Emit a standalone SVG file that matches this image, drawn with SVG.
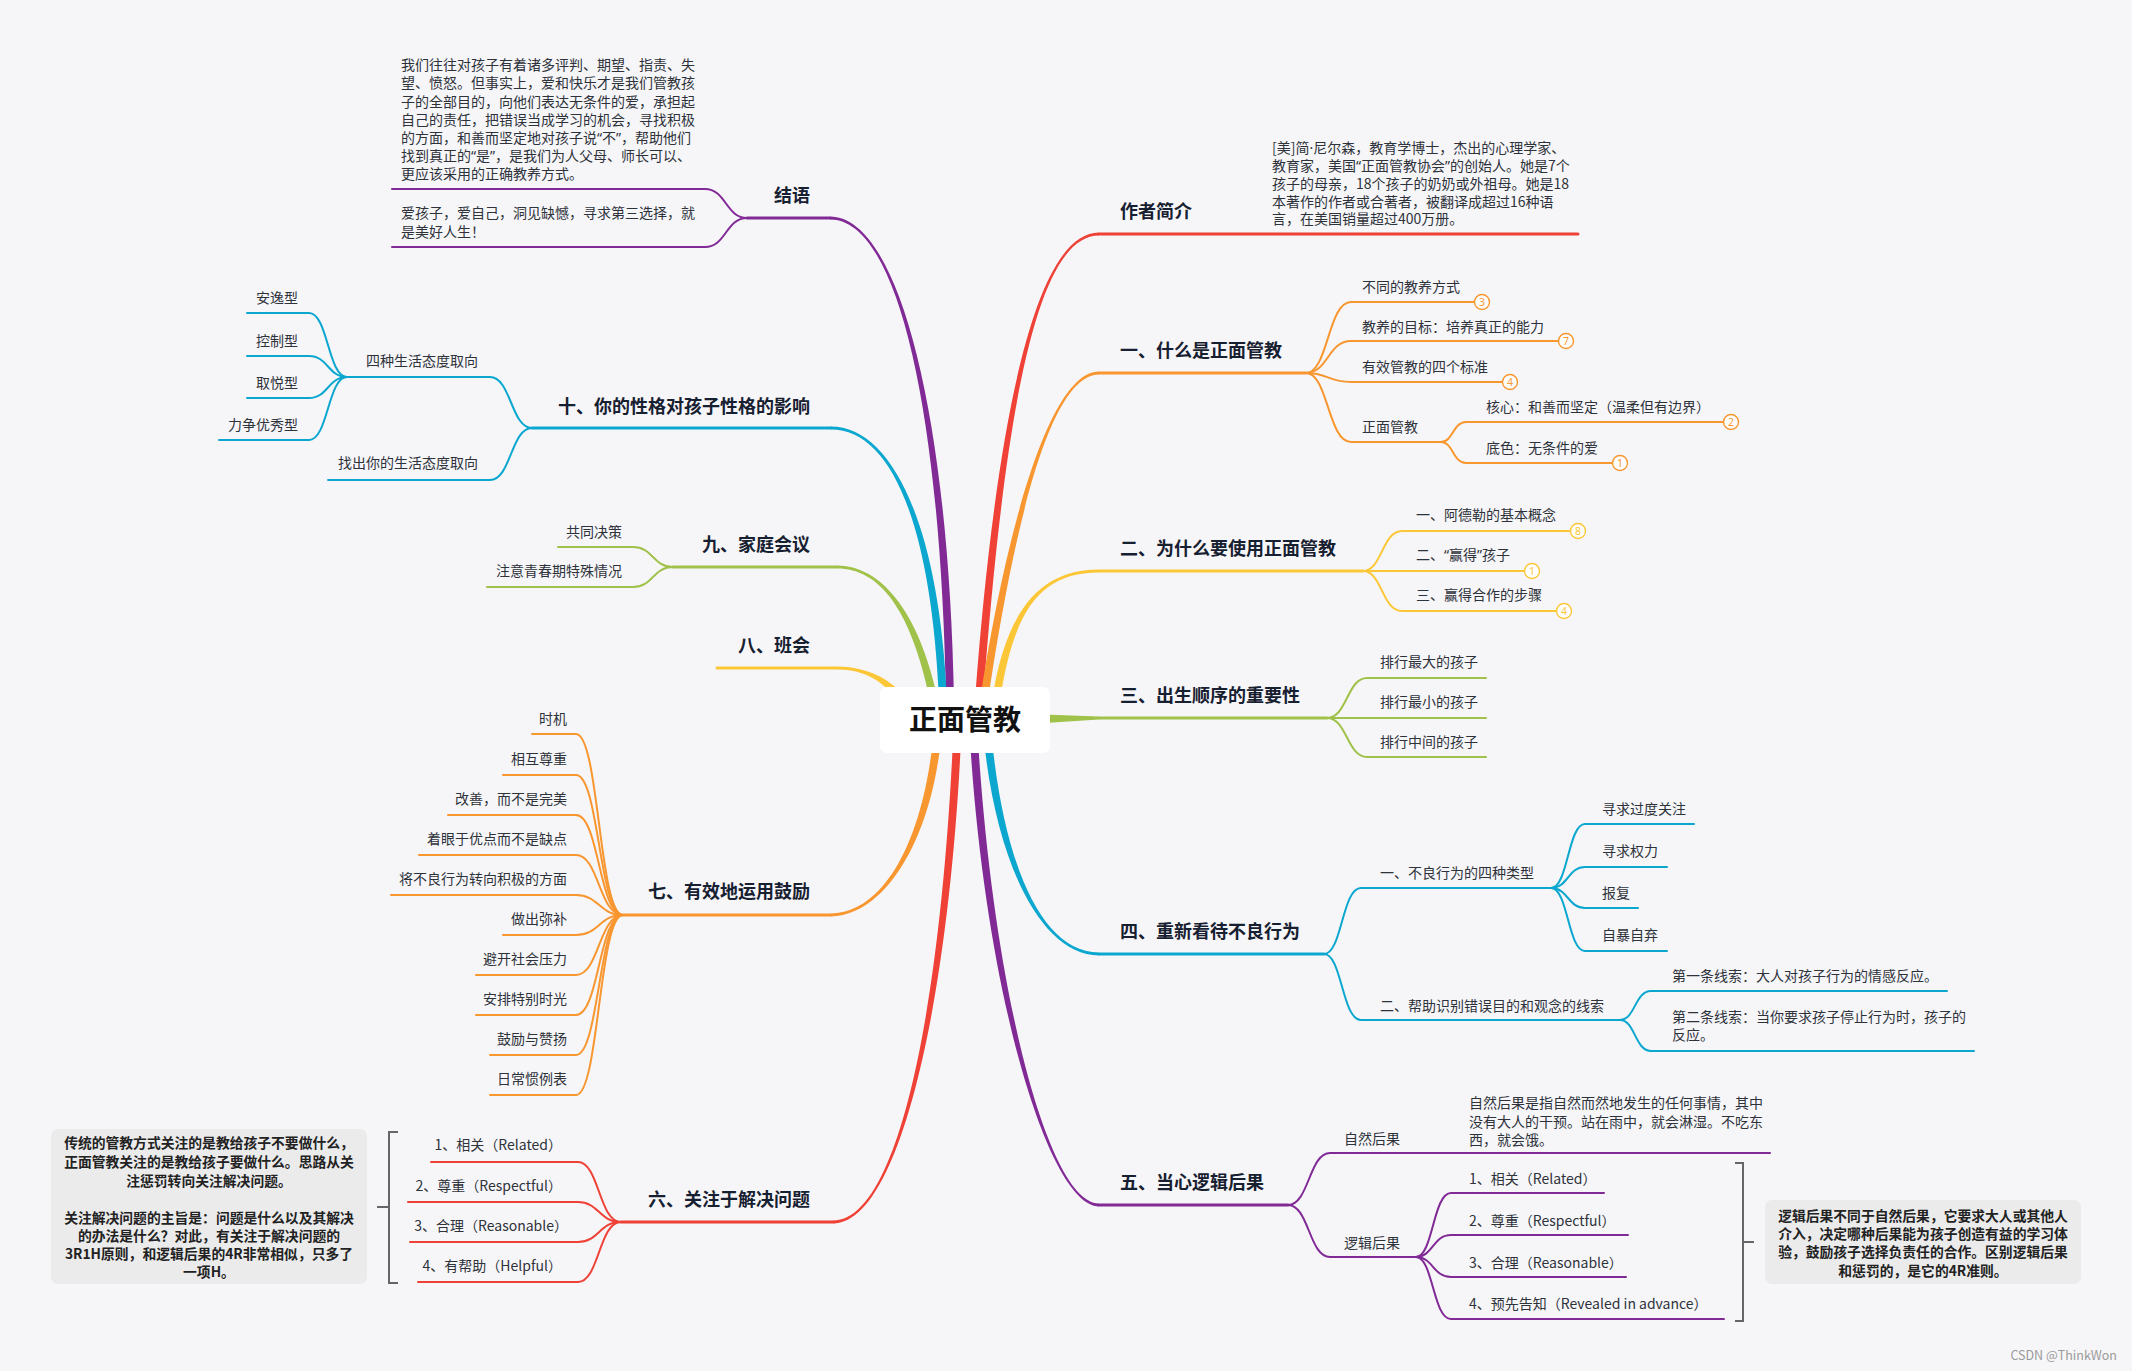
<svg xmlns="http://www.w3.org/2000/svg" width="2132" height="1371" viewBox="0 0 2132 1371">
<style>
text{font-family:"Noto Sans CJK SC","Noto Sans",sans-serif;}
.s{font-size:14px;fill:#2e323a;}
.m{font-size:18px;font-weight:700;fill:#172030;}
.e{text-anchor:end;}
.b{font-size:13.8px;font-weight:700;fill:#222;text-anchor:middle;}
.q{font-family:"Noto Sans","DejaVu Sans",sans-serif;}
.c{fill:none;stroke-linecap:round;}
.w3{stroke-width:3;}
.w2{stroke-width:2;}
.red{stroke:#ef4136;} .org{stroke:#f8962f;} .yel{stroke:#fcc737;} .grn{stroke:#a0c24a;} .blu{stroke:#0ba7cf;} .pur{stroke:#812a96;}
.fred{fill:#ef4136;} .forg{fill:#f8962f;} .fyel{fill:#fcc737;} .fgrn{fill:#a0c24a;} .fblu{fill:#0ba7cf;} .fpur{fill:#812a96;}
.bd circle{fill:#fff;stroke-width:1.4;}
.bd text{font-size:10.5px;text-anchor:middle;font-family:"Noto Sans",sans-serif;}
.brk{fill:none;stroke:#666;stroke-width:2;}
</style>
<rect width="2132" height="1371" fill="#f6f6f9"/>

<g id="connectors">
  <path class="fred" d="M975,700 C996,420 1035,232.5 1099,232.5 L1099,235.5 C1035,235.5 1004,420 983,700 Z"/>
  <path class="forg" d="M980,700 C1001,560 1045,371.5 1099,371.5 L1099,374.5 C1045,374.5 1009,560 988,700 Z"/>
  <path class="fyel" d="M992,700 C1006,610 1040,569.5 1099,569.5 L1099,572.5 C1040,572.5 1014,610 1000,700 Z"/>
  <path class="fgrn" d="M1030,714 L1099,716.5 L1099,719.5 L1030,724 Z"/>
  <path class="fblu" d="M984,740 C996,860 1040,955.5 1099,955.5 L1099,952.5 C1040,952.5 1004,860 992,740 Z"/>
  <path class="fpur" d="M970,740 C986,1000 1050,1206.5 1099,1206.5 L1099,1203.5 C1050,1203.5 994,1000 978,740 Z"/>
  <path class="fpur" d="M946,700 C941,420 900,219.5 830,219.5 L830,216.5 C900,216.5 949,420 954,700 Z"/>
  <path class="fblu" d="M939,700 C931,520 890,429.5 831,429.5 L831,426.5 C890,426.5 939,520 947,700 Z"/>
  <path class="fgrn" d="M930,700 C911,610 880,568.5 837,568.5 L837,565.5 C880,565.5 919,610 938,700 Z"/>
  <path class="fyel" d="M902,708 C887,682 865,669.5 837,669.5 L837,666.5 C865,666.5 893,678 908,702 Z"/>
  <path class="forg" d="M933,740 C921,850 880,913.5 830,913.5 L830,916.5 C880,916.5 929,850 941,740 Z"/>
  <path class="fred" d="M953,740 C941,1000 900,1220.5 833,1220.5 L833,1223.5 C900,1223.5 949,1000 961,740 Z"/>
  <path class="c w3 red" d="M1099,234 H1578"/>
  <path class="c w3 org" d="M1099,373 H1306"/>
  <path class="c w3 yel" d="M1099,571 H1363"/>
  <path class="c w3 grn" d="M1099,718 H1327"/>
  <path class="c w3 blu" d="M1099,954 H1324"/>
  <path class="c w3 pur" d="M1099,1205 H1288"/>
  <path class="c w3 pur" d="M830,218 H747"/>
  <path class="c w3 blu" d="M831,428 H532"/>
  <path class="c w3 grn" d="M837,567 H673"/>
  <path class="c w3 yel" d="M837,668 H717"/>
  <path class="c w3 org" d="M830,915 H623"/>
  <path class="c w3 red" d="M833,1222 H621"/>
  <g class="c w2 org">
    <path d="M1306,373 C1328,373 1328,302 1351,302 H1475"/>
    <path d="M1306,373 C1328,373 1328,341 1351,341 H1559"/>
    <path d="M1306,373 C1328,373 1328,382 1351,382 H1503"/>
    <path d="M1306,373 C1328,373 1328,442 1351,442 H1441"/>
    <path d="M1441,442 C1453,442 1453,422 1466,422 H1724"/>
    <path d="M1441,442 C1453,442 1453,463 1466,463 H1613"/>
  </g>
  <g class="c w2 yel">
    <path d="M1363,571 C1382,571 1382,531 1402,531 H1571"/>
    <path d="M1363,571 H1525"/>
    <path d="M1363,571 C1382,571 1382,611 1402,611 H1557"/>
  </g>
  <g class="c w2 grn">
    <path d="M1327,718 C1347,718 1347,678 1367,678 H1486"/>
    <path d="M1327,718 H1486"/>
    <path d="M1327,718 C1347,718 1347,757 1367,757 H1486"/>
  </g>
  <g class="c w2 blu">
    <path d="M1324,954 C1342,954 1342,888 1361,888 H1551"/>
    <path d="M1324,954 C1342,954 1342,1020 1361,1020 H1620"/>
    <path d="M1551,888 C1568,888 1568,824 1585,824 H1694"/>
    <path d="M1551,888 C1568,888 1568,867 1585,867 H1667"/>
    <path d="M1551,888 C1568,888 1568,908 1585,908 H1638"/>
    <path d="M1551,888 C1568,888 1568,951 1585,951 H1667"/>
    <path d="M1620,1020 C1635,1020 1635,991 1651,991 H1947"/>
    <path d="M1620,1020 C1635,1020 1635,1051 1651,1051 H1974"/>
  </g>
  <g class="c w2 pur">
    <path d="M1288,1205 C1309,1205 1309,1153 1330,1153 H1770"/>
    <path d="M1288,1205 C1309,1205 1309,1257 1330,1257 H1416"/>
    <path d="M1416,1257 C1433,1257 1433,1193 1451,1193 H1604"/>
    <path d="M1416,1257 C1433,1257 1433,1235 1451,1235 H1628"/>
    <path d="M1416,1257 C1433,1257 1433,1277 1451,1277 H1626"/>
    <path d="M1416,1257 C1433,1257 1433,1319 1451,1319 H1724"/>
  </g>
  <g class="c w2 pur">
    <path d="M747,218 C726,218 726,189 705,189 H392"/>
    <path d="M747,218 C726,218 726,247 705,247 H392"/>
  </g>
  <g class="c w2 blu">
    <path d="M532,428 C511,428 511,377 490,377 H347"/>
    <path d="M532,428 C511,428 511,480 490,480 H328"/>
    <path d="M347,377 C328,377 328,313 309,313 H247"/>
    <path d="M347,377 C328,377 328,356 309,356 H247"/>
    <path d="M347,377 C328,377 328,398 309,398 H247"/>
    <path d="M347,377 C328,377 328,440 309,440 H219"/>
  </g>
  <g class="c w2 grn">
    <path d="M673,567 C653,567 653,547 633,547 H558"/>
    <path d="M673,567 C653,567 653,587 633,587 H487"/>
  </g>
  <g class="c w2 org">
    <path d="M623,915 C599,915 599,734 576,734 H532"/>
    <path d="M623,915 C599,915 599,775 576,775 H503"/>
    <path d="M623,915 C599,915 599,815 576,815 H448"/>
    <path d="M623,915 C599,915 599,855 576,855 H419"/>
    <path d="M623,915 C599,915 599,895 576,895 H391"/>
    <path d="M623,915 C599,915 599,935 576,935 H503"/>
    <path d="M623,915 C599,915 599,975 576,975 H476"/>
    <path d="M623,915 C599,915 599,1015 576,1015 H476"/>
    <path d="M623,915 C599,915 599,1055 576,1055 H490"/>
    <path d="M623,915 C599,915 599,1095 576,1095 H490"/>
  </g>
  <g class="c w2 red">
    <path d="M621,1222 C599,1222 599,1162 578,1162 H431"/>
    <path d="M621,1222 C599,1222 599,1202 578,1202 H408"/>
    <path d="M621,1222 C599,1222 599,1242 578,1242 H410"/>
    <path d="M621,1222 C599,1222 599,1282 578,1282 H418"/>
  </g>
  <path class="brk" d="M1735,1163 H1743 V1321 H1735 M1743,1242 H1754"/>
  <path class="brk" d="M398,1132 H389 V1283 H398 M389,1207 H377"/>
</g>

<g id="root">
  <rect x="880" y="687" width="170" height="66" rx="7" fill="#ffffff"/>
  <text x="965" y="730" text-anchor="middle" font-size="28" font-weight="700" fill="#111">正面管教</text>
</g>

<g id="n-author">
  <text class="m" x="1120" y="218">作者简介</text>
  <text class="s" x="1272"><tspan x="1272" y="153">[美]简<tspan class="q">·</tspan>尼尔森，教育学博士，杰出的心理学家、</tspan><tspan x="1272" y="171">教育家，美国<tspan class="q">“</tspan>正面管教协会<tspan class="q">”</tspan>的创始人。她是7个</tspan><tspan x="1272" y="189">孩子的母亲，18个孩子的奶奶或外祖母。她是18</tspan><tspan x="1272" y="207">本著作的作者或合著者，被翻译成超过16种语</tspan><tspan x="1272" y="224">言，在美国销量超过400万册。</tspan></text>
</g>

<g id="n-1">
  <text class="m" x="1120" y="357">一、什么是正面管教</text>
  <g id="n-1-1"><text class="s" x="1362" y="292">不同的教养方式</text><g class="bd"><circle class="org" cx="1482" cy="302" r="7.5"/><text class="forg" x="1482" y="305.8">3</text></g></g>
  <g id="n-1-2"><text class="s" x="1362" y="332">教养的目标：培养真正的能力</text><g class="bd"><circle class="org" cx="1566" cy="341" r="7.5"/><text class="forg" x="1566" y="344.8">7</text></g></g>
  <g id="n-1-3"><text class="s" x="1362" y="372">有效管教的四个标准</text><g class="bd"><circle class="org" cx="1510" cy="382" r="7.5"/><text class="forg" x="1510" y="385.8">4</text></g></g>
  <g id="n-1-4"><text class="s" x="1362" y="432">正面管教</text></g>
  <g id="n-1-4-1"><text class="s" x="1486" y="412">核心：和善而坚定（温柔但有边界）</text><g class="bd"><circle class="org" cx="1731" cy="422" r="7.5"/><text class="forg" x="1731" y="425.8">2</text></g></g>
  <g id="n-1-4-2"><text class="s" x="1486" y="453">底色：无条件的爱</text><g class="bd"><circle class="org" cx="1620" cy="463" r="7.5"/><text class="forg" x="1620" y="466.8">1</text></g></g>
</g>

<g id="n-2">
  <text class="m" x="1120" y="555">二、为什么要使用正面管教</text>
  <g id="n-2-1"><text class="s" x="1416" y="520">一、阿德勒的基本概念</text><g class="bd"><circle class="yel" cx="1578" cy="531" r="7.5"/><text class="fyel" x="1578" y="534.8">8</text></g></g>
  <g id="n-2-2"><text class="s" x="1416" y="560">二、<tspan class="q">“</tspan>赢得<tspan class="q">”</tspan>孩子</text><g class="bd"><circle class="yel" cx="1532" cy="571" r="7.5"/><text class="fyel" x="1532" y="574.8">1</text></g></g>
  <g id="n-2-3"><text class="s" x="1416" y="600">三、赢得合作的步骤</text><g class="bd"><circle class="yel" cx="1564" cy="611" r="7.5"/><text class="fyel" x="1564" y="614.8">4</text></g></g>
</g>

<g id="n-3">
  <text class="m" x="1120" y="702">三、出生顺序的重要性</text>
  <g id="n-3-1"><text class="s" x="1380" y="667">排行最大的孩子</text></g>
  <g id="n-3-2"><text class="s" x="1380" y="707">排行最小的孩子</text></g>
  <g id="n-3-3"><text class="s" x="1380" y="747">排行中间的孩子</text></g>
</g>

<g id="n-4">
  <text class="m" x="1120" y="938">四、重新看待不良行为</text>
  <g id="n-4-1"><text class="s" x="1380" y="878">一、不良行为的四种类型</text></g>
  <g id="n-4-1-1"><text class="s" x="1602" y="814">寻求过度关注</text></g>
  <g id="n-4-1-2"><text class="s" x="1602" y="856">寻求权力</text></g>
  <g id="n-4-1-3"><text class="s" x="1602" y="898">报复</text></g>
  <g id="n-4-1-4"><text class="s" x="1602" y="940">自暴自弃</text></g>
  <g id="n-4-2"><text class="s" x="1380" y="1011">二、帮助识别错误目的和观念的线索</text></g>
  <g id="n-4-2-1"><text class="s" x="1672" y="981">第一条线索：大人对孩子行为的情感反应。</text></g>
  <g id="n-4-2-2"><text class="s"><tspan x="1672" y="1022">第二条线索：当你要求孩子停止行为时，孩子的</tspan><tspan x="1672" y="1040">反应。</tspan></text></g>
</g>

<g id="n-5">
  <text class="m" x="1120" y="1189">五、当心逻辑后果</text>
  <g id="n-5-1"><text class="s" x="1344" y="1144">自然后果</text></g>
  <g id="n-5-1-1"><text class="s"><tspan x="1469" y="1108">自然后果是指自然而然地发生的任何事情，其中</tspan><tspan x="1469" y="1127">没有大人的干预。站在雨中，就会淋湿。不吃东</tspan><tspan x="1469" y="1145">西，就会饿。</tspan></text></g>
  <g id="n-5-2"><text class="s" x="1344" y="1248">逻辑后果</text></g>
  <g id="n-5-2-1"><text class="s" x="1469" y="1184">1、相关（Related）</text></g>
  <g id="n-5-2-2"><text class="s" x="1469" y="1226">2、尊重（Respectful）</text></g>
  <g id="n-5-2-3"><text class="s" x="1469" y="1268">3、合理（Reasonable）</text></g>
  <g id="n-5-2-4"><text class="s" x="1469" y="1309">4、预先告知（Revealed in advance）</text></g>
  <g id="n-5-note">
    <rect x="1765" y="1200" width="316" height="84" rx="7" fill="#ebebec"/>
    <text class="b"><tspan x="1923" y="1221">逻辑后果不同于自然后果，它要求大人或其他人</tspan><tspan x="1923" y="1239">介入，决定哪种后果能为孩子创造有益的学习体</tspan><tspan x="1923" y="1257">验，鼓励孩子选择负责任的合作。区别逻辑后果</tspan><tspan x="1923" y="1276">和惩罚的，是它的4R准则。</tspan></text>
  </g>
</g>

<g id="n-end">
  <text class="m e" x="810" y="202">结语</text>
  <g id="n-end-1"><text class="s"><tspan x="401" y="70">我们往往对孩子有着诸多评判、期望、指责、失</tspan><tspan x="401" y="88">望、愤怒。但事实上，爱和快乐才是我们管教孩</tspan><tspan x="401" y="107">子的全部目的，向他们表达无条件的爱，承担起</tspan><tspan x="401" y="125">自己的责任，把错误当成学习的机会，寻找积极</tspan><tspan x="401" y="143">的方面，和善而坚定地对孩子说<tspan class="q">“</tspan>不<tspan class="q">”</tspan>，帮助他们</tspan><tspan x="401" y="161">找到真正的<tspan class="q">“</tspan>是<tspan class="q">”</tspan>，是我们为人父母、师长可以、</tspan><tspan x="401" y="179">更应该采用的正确教养方式。</tspan></text></g>
  <g id="n-end-2"><text class="s"><tspan x="401" y="218">爱孩子，爱自己，洞见缺憾，寻求第三选择，就</tspan><tspan x="401" y="237">是美好人生！</tspan></text></g>
</g>

<g id="n-10">
  <text class="m e" x="810" y="413">十、你的性格对孩子性格的影响</text>
  <g id="n-10-1"><text class="s e" x="478" y="366">四种生活态度取向</text></g>
  <g id="n-10-1-1"><text class="s e" x="298" y="303">安逸型</text></g>
  <g id="n-10-1-2"><text class="s e" x="298" y="346">控制型</text></g>
  <g id="n-10-1-3"><text class="s e" x="298" y="388">取悦型</text></g>
  <g id="n-10-1-4"><text class="s e" x="298" y="430">力争优秀型</text></g>
  <g id="n-10-2"><text class="s e" x="478" y="468">找出你的生活态度取向</text></g>
</g>

<g id="n-9">
  <text class="m e" x="810" y="551">九、家庭会议</text>
  <g id="n-9-1"><text class="s e" x="622" y="537">共同决策</text></g>
  <g id="n-9-2"><text class="s e" x="622" y="576">注意青春期特殊情况</text></g>
</g>

<g id="n-8">
  <text class="m e" x="810" y="652">八、班会</text>
</g>

<g id="n-7">
  <text class="m e" x="810" y="898">七、有效地运用鼓励</text>
  <g id="n-7-1"><text class="s e" x="567" y="724">时机</text></g>
  <g id="n-7-2"><text class="s e" x="567" y="764">相互尊重</text></g>
  <g id="n-7-3"><text class="s e" x="567" y="804">改善，而不是完美</text></g>
  <g id="n-7-4"><text class="s e" x="567" y="844">着眼于优点而不是缺点</text></g>
  <g id="n-7-5"><text class="s e" x="567" y="884">将不良行为转向积极的方面</text></g>
  <g id="n-7-6"><text class="s e" x="567" y="924">做出弥补</text></g>
  <g id="n-7-7"><text class="s e" x="567" y="964">避开社会压力</text></g>
  <g id="n-7-8"><text class="s e" x="567" y="1004">安排特别时光</text></g>
  <g id="n-7-9"><text class="s e" x="567" y="1044">鼓励与赞扬</text></g>
  <g id="n-7-10"><text class="s e" x="567" y="1084">日常惯例表</text></g>
</g>

<g id="n-6">
  <text class="m e" x="810" y="1206">六、关注于解决问题</text>
  <g id="n-6-1"><text class="s e" x="562" y="1150">1、相关（Related）</text></g>
  <g id="n-6-2"><text class="s e" x="562" y="1191">2、尊重（Respectful）</text></g>
  <g id="n-6-3"><text class="s e" x="568" y="1231">3、合理（Reasonable）</text></g>
  <g id="n-6-4"><text class="s e" x="562" y="1271">4、有帮助（Helpful）</text></g>
  <g id="n-6-note">
    <rect x="51" y="1129" width="316" height="155" rx="7" fill="#ebebec"/>
    <text class="b"><tspan x="209" y="1148">传统的管教方式关注的是教给孩子不要做什么，</tspan><tspan x="209" y="1167">正面管教关注的是教给孩子要做什么。思路从关</tspan><tspan x="209" y="1186">注惩罚转向关注解决问题。</tspan><tspan x="209" y="1223">关注解决问题的主旨是：问题是什么以及其解决</tspan><tspan x="209" y="1241">的办法是什么？对此，有关注于解决问题的</tspan><tspan x="209" y="1259">3R1H原则，和逻辑后果的4R非常相似，只多了</tspan><tspan x="209" y="1277">一项H。</tspan></text>
  </g>
</g>

<text x="2117" y="1360" text-anchor="end" font-family="Liberation Sans, Arial, sans-serif" font-size="12.5" fill="#9a9a9a">CSDN @ThinkWon</text>
</svg>
